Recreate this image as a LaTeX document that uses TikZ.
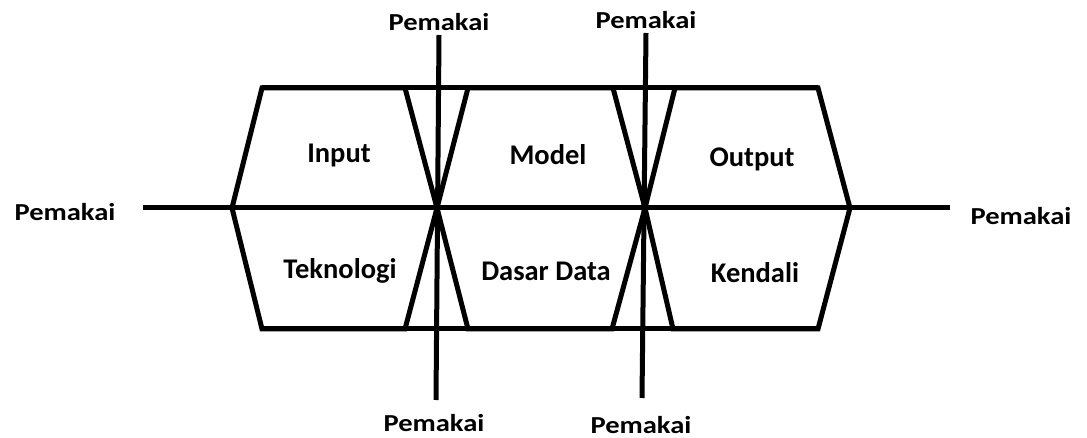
\documentclass[tikz,border=0pt]{standalone}
\usepackage{fontspec}
\setmainfont{Carlito}
\newfontfamily\pemfont[FakeStretch=1.17]{Carlito}
\begin{document}
\begin{tikzpicture}[x=1pt,y=-1pt,
  ln/.style={line width=5pt,line join=miter,line cap=butt},
  inlab/.style={anchor=base,inner sep=0pt,font=\fontsize{28.5}{32}\selectfont\bfseries},
  pem/.style={anchor=base,inner sep=0pt,font=\pemfont\fontsize{24.4}{28}\selectfont\bfseries}]
\useasboundingbox (0,0) rectangle (1087,438);
% key points
\coordinate (lTL) at (262,88);  \coordinate (lTR) at (405,88);
\coordinate (lBL) at (262,329); \coordinate (lBR) at (405,329);
\coordinate (lV) at (232,208);
\coordinate (c1) at (437,208);
\coordinate (mTL) at (468,88);  \coordinate (mTR) at (613,88);
\coordinate (mBL) at (468,329); \coordinate (mBR) at (612,329);
\coordinate (c2) at (645,208);
\coordinate (rTL) at (675,88);  \coordinate (rTR) at (818,88);
\coordinate (rBL) at (673,329); \coordinate (rBR) at (818,329);
\coordinate (rV) at (850,208);
\coordinate (hL) at (143,208);  \coordinate (hR) at (950,208);
\coordinate (v1t) at (439,35);  \coordinate (v1b) at (436,400);
\coordinate (v2t) at (646,33);  \coordinate (v2b) at (642,398);
% hexagons
\draw[ln] (lTL) -- (lTR) -- (c1) -- (lBR) -- (lBL) -- (lV) -- cycle;
\draw[ln] (mTL) -- (mTR) -- (c2) -- (mBR) -- (mBL) -- (c1) -- cycle;
\draw[ln] (rTL) -- (rTR) -- (rV) -- (rBR) -- (rBL) -- (c2) -- cycle;
\draw[ln] (lTL) -- (rTR);
\draw[ln] (lBL) -- (rBR);
% axes
\draw[ln] (hL) -- (hR);
\draw[ln] (v1t) -- (v1b);
\draw[ln] (v2t) -- (v2b);
% labels
\node[inlab] (input) at (339,163) {Input};
\node[inlab] (tek) at (340,279) {Teknologi};
\node[inlab] (model) at (548,165) {Model};
\node[inlab] (dasar) at (546,281) {Dasar Data};
\node[inlab] (output) at (752,167) {Output};
\node[inlab] (kendali) at (755,283) {Kendali};
\node[pem] (pl) at (65,221) {Pemakai};
\node[pem] (pr) at (1021,225) {Pemakai};
\node[pem] (pt1) at (439,31) {Pemakai};
\node[pem] (pt2) at (646,29) {Pemakai};
\node[pem] (pb1) at (434,431) {Pemakai};
\node[pem] (pb2) at (641,433) {Pemakai};
\end{tikzpicture}
\end{document}
